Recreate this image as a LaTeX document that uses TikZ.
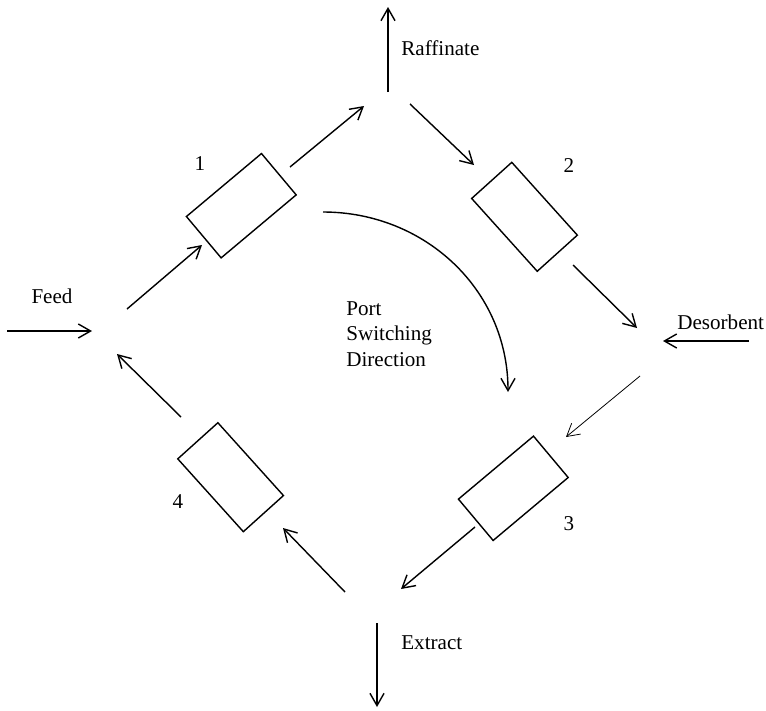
\documentclass[tikz,border=0pt]{standalone}
\usepackage{fontspec}
\setmainfont{Liberation Serif}
\usetikzlibrary{arrows.meta}
\tikzset{
    column-box/.style = {draw, line width=0.8pt, rectangle, minimum width=1.96cm, minimum height=1.08cm, inner sep=0pt},
    flow-arrow/.style = {-{Straight Barb[length=7pt,width=8pt]}, line width=0.8pt},
    thin-arrow/.style = {flow-arrow, line width=0.45pt},
    stream-label/.style = {font=\fontsize{12}{14.6}\selectfont, inner sep=0pt},
}
\begin{document}
\begin{tikzpicture}[x=0.02cm, y=-0.02cm]
\useasboundingbox (0,0) rectangle (766,710);
\node[column-box, rotate=40] (col1) at (241.3,205.7) {};
\node[column-box, rotate=-48] (col2) at (524.5,216.8) {};
\node[column-box, rotate=40] (col3) at (513.3,488.3) {};
\node[column-box, rotate=-48] (col4) at (230.6,477.2) {};
\node[stream-label] (num1) at (200,164) {1};
\node[stream-label] (num2) at (569,166) {2};
\node[stream-label] (num3) at (569,524) {3};
\node[stream-label] (num4) at (178,502) {4};
\node[stream-label] (feed) at (52,296) {Feed};
\node[stream-label, anchor=west] (raffinate) at (401,48) {Raffinate};
\node[stream-label, anchor=west] (desorbent) at (677,322) {Desorbent};
\node[stream-label, anchor=west] (extract) at (401,643) {Extract};
\node[stream-label, anchor=west, align=left] (switching) at (346,334) {Port\\Switching\\Direction};
\coordinate (feed-start) at (7,331);
\coordinate (feed-end) at (92,331);
\coordinate (col4-out) at (181,417);
\coordinate (feed-port-in) at (117,354);
\coordinate (feed-port-out) at (127,309);
\coordinate (col1-in) at (202,245);
\coordinate (col1-out) at (290,167);
\coordinate (raff-port-in) at (364,106);
\coordinate (raff-start) at (388,92);
\coordinate (raff-end) at (388,7);
\coordinate (raff-port-out) at (410,104);
\coordinate (col2-in) at (474,165);
\coordinate (col2-out) at (573,265);
\coordinate (des-port-in) at (637,328);
\coordinate (des-start) at (749,341);
\coordinate (des-end) at (663,341);
\coordinate (des-port-out) at (640,376);
\coordinate (col3-in) at (566,437);
\coordinate (col3-out) at (475,527);
\coordinate (ext-port-in) at (401,589);
\coordinate (ext-port-out) at (345,592);
\coordinate (col4-in) at (283,528);
\coordinate (ext-start) at (377,623);
\coordinate (ext-end) at (377,707);
\coordinate (switch-start) at (323,212);
\coordinate (switch-end) at (508,392);
\draw[flow-arrow] (feed-start) -- (feed-end);
\draw[flow-arrow] (col4-out) -- (feed-port-in);
\draw[flow-arrow] (feed-port-out) -- (col1-in);
\draw[flow-arrow] (col1-out) -- (raff-port-in);
\draw[flow-arrow] (raff-start) -- (raff-end);
\draw[flow-arrow] (raff-port-out) -- (col2-in);
\draw[flow-arrow] (col2-out) -- (des-port-in);
\draw[flow-arrow] (des-start) -- (des-end);
\draw[thin-arrow] (des-port-out) -- (col3-in);
\draw[flow-arrow] (col3-out) -- (ext-port-in);
\draw[flow-arrow] (ext-port-out) -- (col4-in);
\draw[flow-arrow] (ext-start) -- (ext-end);
\draw[flow-arrow] (switch-start) .. controls (425,212) and (508,290) .. (switch-end);
\end{tikzpicture}
\end{document}
